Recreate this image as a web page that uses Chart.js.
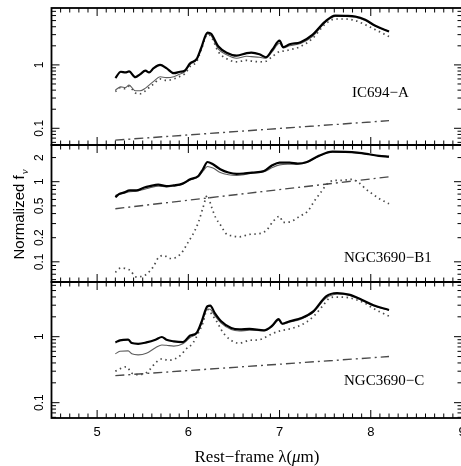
<!DOCTYPE html>
<html>
<head>
<meta charset="utf-8">
<script src="https://cdn.jsdelivr.net/npm/chart.js@4.4.1/dist/chart.umd.min.js"></script>
<style>
  html, body { margin: 0; padding: 0; background: #fff; overflow: hidden; width: 461px; height: 466px; }
  canvas { position: absolute; left: 0; }
</style>
</head>
<body>
<canvas id="panelA" width="470" height="152" style="top:0px"></canvas>
<canvas id="panelB" width="470" height="150" style="top:140px"></canvas>
<canvas id="panelC" width="470" height="189" style="top:277px"></canvas>
<script>
// ---- data ----
// IC694-A
const icX     = [5.20,5.26,5.31,5.35,5.42,5.47,5.53,5.57,5.62,5.69,5.76,5.84,5.91,5.96,6.02,6.09,6.14,6.21,6.25,6.33,6.42,6.53,6.64,6.69,6.78,6.85,6.92,7.00,7.04,7.11,7.23,7.36,7.50,7.61,7.72,7.83,7.94,8.05,8.20];
const icBlack = [0.62,0.78,0.76,0.79,0.64,0.71,0.81,0.76,0.89,1.00,0.89,0.74,0.78,0.81,1.06,1.23,1.83,3.24,3.09,1.95,1.56,1.40,1.53,1.56,1.47,1.32,1.73,2.42,1.90,2.12,2.28,2.98,4.83,6.00,5.94,5.80,5.14,4.13,3.36];
const icGray  = [0.40,0.45,0.44,0.48,0.39,0.39,0.43,0.48,0.55,0.65,0.63,0.65,0.72,0.78,1.02,1.20,1.78,3.09,2.90,1.77,1.44,1.27,1.37,1.35,1.32,1.27,1.62,2.20,1.85,2.00,2.18,2.80,4.66,5.80,5.80,5.66,5.00,4.10,3.35];
const icDot   = [0.38,0.44,0.42,0.46,0.36,0.35,0.39,0.44,0.50,0.60,0.57,0.60,0.66,0.72,0.95,1.12,1.70,3.00,2.80,1.60,1.25,1.12,1.18,1.15,1.12,1.14,1.35,1.62,1.65,1.73,1.95,2.60,4.40,5.30,5.30,5.00,4.30,3.60,2.80];
const icContX = [5.2, 8.2];
const icCont  = [0.065, 0.132];

// NGC3690-B1
const b1X     = [5.20,5.24,5.29,5.36,5.43,5.51,5.58,5.67,5.76,5.84,5.93,6.02,6.11,6.16,6.21,6.27,6.35,6.44,6.53,6.62,6.70,6.83,6.92,7.00,7.11,7.20,7.30,7.43,7.58,7.72,7.85,7.98,8.09,8.20];
const b1Black = [0.64,0.70,0.73,0.78,0.78,0.84,0.88,0.92,0.88,0.90,0.94,1.07,1.18,1.43,1.76,1.65,1.43,1.30,1.25,1.27,1.30,1.36,1.60,1.73,1.73,1.68,1.76,2.10,2.37,2.35,2.30,2.20,2.10,2.05];
const b1Gray  = [0.67,0.70,0.72,0.75,0.76,0.80,0.84,0.88,0.86,0.88,0.92,1.05,1.15,1.35,1.55,1.48,1.30,1.22,1.20,1.23,1.28,1.33,1.50,1.62,1.65,1.66,1.74,2.08,2.35,2.33,2.28,2.18,2.08,2.03];
const b1DotX  = [5.20,5.26,5.32,5.37,5.42,5.50,5.56,5.62,5.67,5.73,5.80,5.87,5.94,5.99,6.05,6.11,6.16,6.21,6.25,6.30,6.36,6.41,6.49,6.56,6.67,6.79,6.86,6.93,7.00,7.04,7.13,7.22,7.31,7.38,7.45,7.52,7.60,7.67,7.80,7.87,7.94,8.02,8.11,8.20];
const b1Dot   = [0.074,0.084,0.082,0.077,0.065,0.066,0.073,0.088,0.112,0.12,0.11,0.114,0.136,0.17,0.22,0.31,0.47,0.68,0.50,0.355,0.28,0.226,0.21,0.205,0.22,0.226,0.25,0.32,0.37,0.31,0.32,0.37,0.43,0.57,0.73,0.93,1.04,1.04,1.07,0.97,0.82,0.70,0.60,0.53];
const b1ContX = [5.2, 8.2];
const b1Cont  = [0.46, 1.15];

// NGC3690-C
const cX      = [5.20,5.25,5.34,5.38,5.45,5.54,5.64,5.71,5.76,5.84,5.94,6.02,6.09,6.14,6.21,6.24,6.29,6.36,6.47,6.56,6.67,6.83,6.92,6.99,7.03,7.11,7.24,7.37,7.51,7.63,7.76,7.90,8.03,8.20];
const cBlack  = [0.82,0.88,0.90,0.80,0.78,0.82,0.90,0.99,0.90,0.85,0.83,1.04,1.14,1.61,2.89,2.95,2.28,1.71,1.35,1.29,1.31,1.25,1.47,1.85,1.57,1.71,1.92,2.42,4.09,4.59,4.33,3.64,2.99,2.54];
const cGray   = [0.55,0.60,0.61,0.55,0.53,0.56,0.68,0.75,0.74,0.72,0.78,0.97,1.11,1.52,2.63,2.60,2.08,1.61,1.28,1.22,1.25,1.23,1.43,1.77,1.55,1.66,1.86,2.34,3.85,4.40,4.25,3.58,2.95,2.52];
const cDotX   = [5.20,5.27,5.32,5.38,5.44,5.53,5.58,5.64,5.71,5.78,5.85,5.92,5.97,6.05,6.11,6.16,6.19,6.22,6.26,6.31,6.36,6.40,6.46,6.51,6.56,6.67,6.78,6.85,6.92,7.01,7.11,7.20,7.29,7.38,7.47,7.55,7.62,7.73,7.84,7.93,8.02,8.11,8.20];
const cDot    = [0.30,0.335,0.35,0.28,0.266,0.28,0.32,0.40,0.46,0.44,0.46,0.53,0.64,0.80,1.14,1.61,2.28,2.56,2.15,1.71,1.28,1.07,0.90,0.82,0.80,0.88,0.90,0.99,1.11,1.23,1.31,1.43,1.65,2.08,2.89,3.85,3.99,3.95,3.64,3.24,2.72,2.34,2.05];
const cContX  = [5.2, 8.2];
const cCont   = [0.257, 0.50];

// axis tick labels
const xTickLabels = [5, 6, 7, 8, 9];
const yLabelsA = [1, 0.1];
const yLabelsB = [2, 1, 0.5, 0.2, 0.1];
const yLabelsC = [1, 0.1];

// ---- helpers ----
function pts(xs, ys) {
    return xs.map((x, i) => ({ x: x, y: ys[i] }));
}

function seriesSet(x, black, gray, dotX, dot, contX, cont) {
    return [
        { data: pts(x, black), borderColor: '#000', borderWidth: 2.2 },
        { data: pts(x, gray), borderColor: '#5e5e5e', borderWidth: 1.1 },
        { data: pts(dotX, dot), borderColor: '#4a4a4a', borderWidth: 1.7, borderDash: [1.5, 3.5] },
        { data: pts(contX, cont), borderColor: '#4a4a4a', borderWidth: 1.4, borderDash: [9, 4, 2, 4] }
    ];
}

const SERIF = '"Liberation Serif", "DejaVu Serif", serif';
const SANS = '"Liberation Sans", "DejaVu Sans", sans-serif';

// frame, inward ticks on all four sides, and labels
const framePlugin = {
    id: 'framePlugin',
    afterDatasetsDraw(chart, args, o) {
        const { ctx, chartArea: a, scales: { x, y } } = chart;
        ctx.save();
        ctx.strokeStyle = '#000';
        ctx.lineWidth = 1;
        ctx.beginPath();
        // x ticks every 0.1
        for (let i = 45; i <= 90; i++) {
            const px = x.getPixelForValue(i / 10);
            const len = i % 10 === 0 ? 8 : 4.5;
            ctx.moveTo(px, a.top); ctx.lineTo(px, a.top + len);
            ctx.moveTo(px, a.bottom); ctx.lineTo(px, a.bottom - len);
        }
        // log y ticks
        const lo = Math.floor(Math.log10(y.min)), hi = Math.ceil(Math.log10(y.max));
        for (let e = lo; e <= hi; e++) {
            for (let k = 1; k <= 9; k++) {
                const v = k * Math.pow(10, e);
                if (v < y.min || v > y.max) continue;
                const py = y.getPixelForValue(v);
                const len = k === 1 ? 8 : 4.5;
                ctx.moveTo(a.left, py); ctx.lineTo(a.left + len, py);
                ctx.moveTo(a.right, py); ctx.lineTo(a.right - len, py);
            }
        }
        ctx.stroke();
        ctx.lineWidth = 1.8;
        ctx.strokeRect(a.left, a.top, a.width, a.height);

        ctx.fillStyle = '#000';
        // y tick labels, rotated
        ctx.font = '12px ' + SANS;
        ctx.textAlign = 'center';
        ctx.textBaseline = 'middle';
        o.yLabels.forEach(v => {
            ctx.save();
            ctx.translate(40, y.getPixelForValue(v));
            ctx.rotate(-Math.PI / 2);
            ctx.fillText(String(v), 0, 0);
            ctx.restore();
        });
        // x tick labels (bottom panel only)
        if (o.xLabels) {
            ctx.font = '13px ' + SANS;
            xTickLabels.forEach(v => ctx.fillText(String(v), x.getPixelForValue(v), a.bottom + 14));
        }
        // panel name
        ctx.font = '15px ' + SERIF;
        ctx.textAlign = 'left';
        ctx.fillText(o.name, o.nameX, o.nameY);

        // y axis title (middle panel)
        if (o.yTitle) {
            ctx.save();
            ctx.translate(20, o.yTitle);
            ctx.rotate(-Math.PI / 2);
            const main = 'Normalized f';
            ctx.font = '15px ' + SANS;
            const w1 = ctx.measureText(main).width;
            ctx.font = 'italic 11px ' + SERIF;
            const w2 = ctx.measureText('\u03bd').width;
            const start = -(w1 + w2) / 2;
            ctx.font = '15px ' + SANS;
            ctx.textAlign = 'left';
            ctx.fillText(main, start, 0);
            ctx.font = 'italic 11px ' + SERIF;
            ctx.fillText('\u03bd', start + w1 + 1, 5);
            ctx.restore();
        }
        // x axis title (bottom panel)
        if (o.xTitle) {
            const parts = [['Rest\u2212frame \u03bb(', '17px ' + SERIF], ['\u03bc', 'italic 17px ' + SERIF], ['m)', '17px ' + SERIF]];
            let total = 0;
            parts.forEach(p => { ctx.font = p[1]; total += ctx.measureText(p[0]).width; });
            let cx = 257 - total / 2;
            ctx.textAlign = 'left';
            parts.forEach(p => { ctx.font = p[1]; ctx.fillText(p[0], cx, o.xTitle); cx += ctx.measureText(p[0]).width; });
        }
        ctx.restore();
    }
};

function makePanel(id, datasets, ymin, ymax, padding, opts) {
    const ctx = document.getElementById(id);
    return new Chart(ctx, {
        type: 'line',
        data: { datasets: datasets },
        options: {
            responsive: false,
            animation: false,
            layout: { padding: padding },
            elements: {
                point: { radius: 0 },
                line: { cubicInterpolationMode: 'monotone', fill: false }
            },
            scales: {
                x: { type: 'linear', min: 4.5, max: 9, display: false },
                y: { type: 'logarithmic', min: ymin, max: ymax, display: false }
            },
            plugins: {
                legend: { display: false },
                tooltip: { enabled: false },
                framePlugin: opts
            }
        },
        plugins: [framePlugin]
    });
}

makePanel('panelA', seriesSet(icX, icBlack, icGray, icX, icDot, icContX, icCont),
    0.0545, 7.9, { left: 51.5, right: 8, top: 8, bottom: 7 },
    { yLabels: yLabelsA, name: 'IC694\u2212A', nameX: 352, nameY: 93 });

makePanel('panelB', seriesSet(b1X, b1Black, b1Gray, b1DotX, b1Dot, b1ContX, b1Cont),
    0.056, 2.87, { left: 51.5, right: 8, top: 5, bottom: 8 },
    { yLabels: yLabelsB, name: 'NGC3690\u2212B1', nameX: 344, nameY: 118, yTitle: 75 });

makePanel('panelC', seriesSet(cX, cBlack, cGray, cDotX, cDot, cContX, cCont),
    0.0586, 6.74, { left: 51.5, right: 8, top: 5, bottom: 48 },
    { yLabels: yLabelsC, name: 'NGC3690\u2212C', nameX: 344, nameY: 104, xLabels: true, xTitle: 181 });
</script>
</body>
</html>
